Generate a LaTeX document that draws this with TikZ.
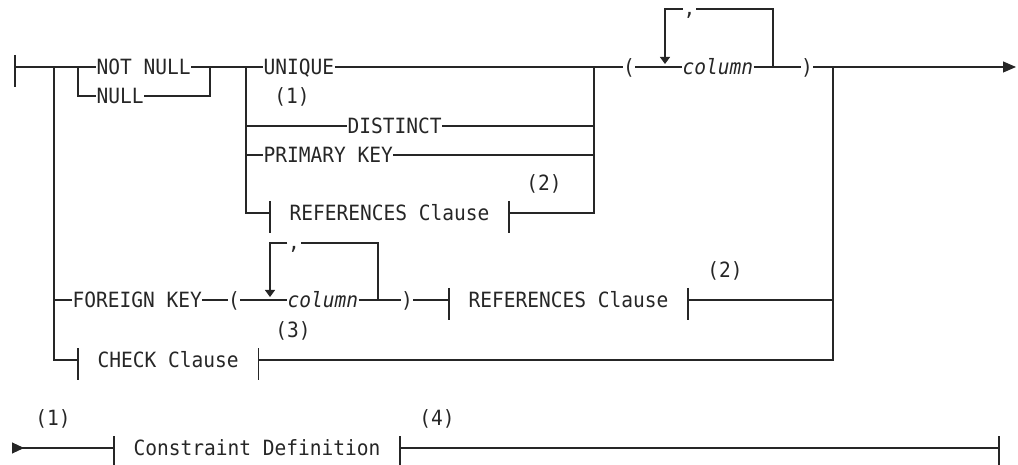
\documentclass[tikz,border=0pt]{standalone}
\usepackage{fontspec}
\setmainfont{DejaVu Sans Mono}[FakeStretch=0.93]
\usetikzlibrary{arrows.meta,calc}

\newcommand{\railfont}{\fontsize{21pt}{24pt}\selectfont}
\newcommand{\railtick}[1]{\draw ($(#1)+(0,-12)$) -- ($(#1)+(0,20)$);}

\begin{document}
\begin{tikzpicture}[x=1pt, y=-1pt, line width=1.1pt, color=black!85,
  >={Triangle[length=13pt,width=11pt]},
  every node/.style={font=\railfont, inner sep=0pt},
  kw/.style={anchor=west, text height=15.3pt, text depth=0pt},
  sym/.style={text height=15.3pt, text depth=0pt},
  clause/.style={anchor=west, text height=15.3pt, text depth=0pt, inner xsep=19pt},
  note/.style={},
  sepchar/.style={anchor=base, minimum width=12pt},
  looptip/.style={-{Triangle[length=7pt,width=10pt]}}]
  \useasboundingbox (0,0) rectangle (1018,465);

  % junctions of the first diagram
  \coordinate (start) at (15,67);
  \coordinate (j1) at (54,67);
  \coordinate (j2) at (78,67);
  \coordinate (j3) at (210,67);
  \coordinate (j4) at (246,67);
  \coordinate (j5) at (594,67);
  \coordinate (j6) at (833,67);
  \coordinate (stopA) at (1016,67);

  % first row and the UNIQUE group
  \node[kw] (notnull) at (96,67) {NOT NULL};
  \node[kw] (null) at (96,96) {NULL};
  \node[kw] (unique) at (263,67) {UNIQUE};
  \node[note] (n1) at (292,96.5) {(1)};
  \node[kw] (distinct) at (347,126) {DISTINCT};
  \node[kw] (primary) at (263,155) {PRIMARY KEY};
  \node[clause] (refA) at (270,213) {REFERENCES Clause};
  \node[note] (n2a) at (544,184) {(2)};
  \node[sym] (lpA) at (629,67) {(};
  \node[kw, font=\railfont\itshape] (colA) at (682,67) {column};
  \node[sym] (rpA) at (807,67) {)};

  % repeat loop over column
  \coordinate (loopA1) at (665,67);
  \coordinate (loopA2) at (773,67);
  \coordinate (topA1) at (665,9);
  \coordinate (topA2) at (773,9);
  \node[sepchar] (comA) at (689.5,16) {,};

  \draw (start) -- (notnull);
  \draw (notnull) -- (unique);
  \draw (unique) -- (lpA);
  \draw (lpA) -- (colA);
  \draw (colA) -- (rpA);
  \draw[->] (rpA) -- (stopA);
  \railtick{start}

  \draw (j2) |- (null.west);
  \draw (null.east) -| (j3);
  \draw (j4) |- (distinct.west);
  \draw (distinct.east) -| (j5);
  \draw (j4) |- (primary.west);
  \draw (primary.east) -| (j5);
  \draw (j4) |- (refA.west);
  \draw (refA.east) -| (j5);
  \railtick{refA.west}
  \railtick{refA.east}

  \draw (loopA2) -- (topA2) -- (topA2 -| comA.east);
  \draw[looptip] (topA1 -| comA.west) -- (topA1) -- ($(loopA1)+(0,-3)$);

  % FOREIGN KEY row
  \node[kw] (foreign) at (72,300) {FOREIGN KEY};
  \node[sym] (lpB) at (234,300) {(};
  \node[kw, font=\railfont\itshape] (colB) at (287,300) {column};
  \node[sym] (rpB) at (407,300) {)};
  \node[clause] (refB) at (449,300) {REFERENCES Clause};
  \node[note] (n2b) at (725,270.5) {(2)};

  \coordinate (loopB1) at (270,300);
  \coordinate (loopB2) at (378,300);
  \coordinate (topB1) at (270,243);
  \coordinate (topB2) at (378,243);
  \node[sepchar] (comB) at (294,250) {,};

  \draw (j1) |- (foreign.west);
  \draw (foreign) -- (lpB);
  \draw (lpB) -- (colB);
  \draw (colB) -- (rpB);
  \draw (rpB) -- (refB);
  \draw (refB.east) -| (j6);
  \railtick{refB.west}
  \railtick{refB.east}

  \draw (loopB2) -- (topB2) -- (topB2 -| comB.east);
  \draw[looptip] (topB1 -| comB.west) -- (topB1) -- ($(loopB1)+(0,-3)$);

  % CHECK row
  \node[clause] (check) at (78,360) {CHECK Clause};
  \node[note] (n3) at (293,331) {(3)};
  \draw (j1) |- (check.west);
  \draw (check.east) -| (j6);
  \railtick{check.west}
  \railtick{check.east}

  % continuation line
  \coordinate (cont) at (12,448);
  \coordinate (stopB) at (999,448);
  \node[clause] (cdef) at (114,448) {Constraint Definition};
  \node[note] (n1b) at (53,418.5) {(1)};
  \node[note] (n4) at (437,418.5) {(4)};
  \draw[{Triangle[reversed,length=12pt,width=11pt]}-] (cont) -- (cdef.west);
  \draw (cdef.east) -- (stopB);
  \railtick{cdef.west}
  \railtick{cdef.east}
  \railtick{stopB}
\end{tikzpicture}
\end{document}
